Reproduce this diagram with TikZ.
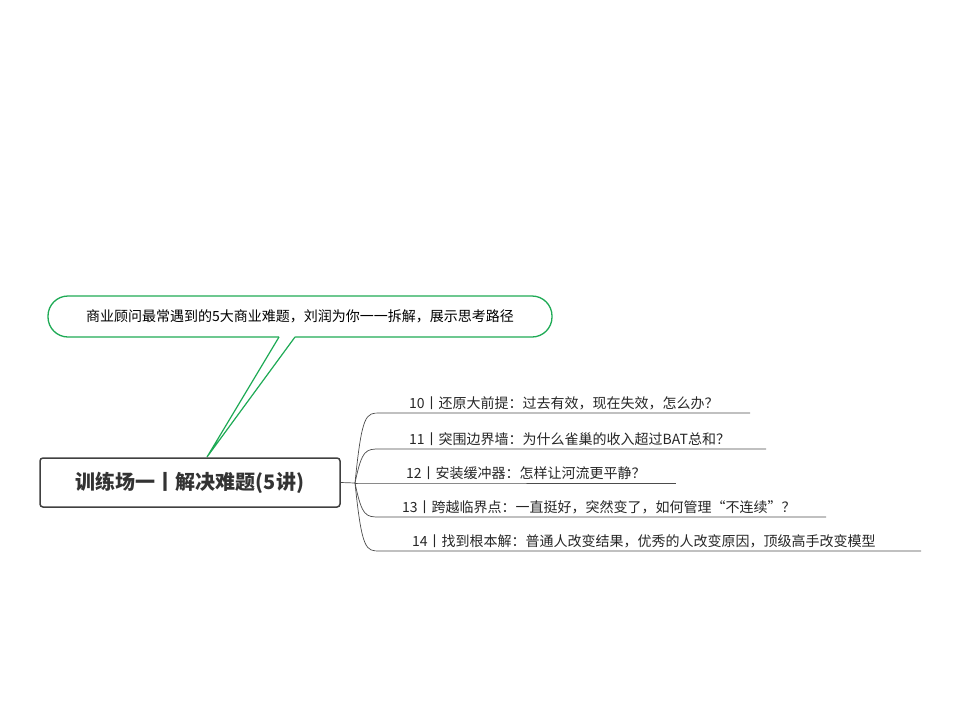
\documentclass[tikz,border=0pt]{standalone}
\usepackage{fontspec}
\setmainfont{Noto Sans CJK SC}
\begin{document}
\begin{tikzpicture}[x=1pt,y=-1pt,
  lbl/.style={anchor=base west,font=\fontsize{14}{16}\selectfont,inner sep=0pt,text=black!85},
  br/.style={draw=black!70,line width=0.7pt}]
\useasboundingbox (0,0) rectangle (960,720);
\definecolor{cg}{RGB}{30,170,85}
% callout
\node[draw=cg,line width=1.3pt,rounded corners=20pt,minimum width=504pt,minimum height=41pt,
  font=\fontsize{14}{16}\selectfont,inner sep=0pt] (call) at (300,316.5) {商业顾问最常遇到的5大商业难题，刘润为你一一拆解，展示思考路径};
\coordinate (tip) at (207,457);
\fill[white] (280,335) -- (296,335) -- (tip) -- cycle;
\draw[cg,line width=1.2pt] (279,337) -- (tip) -- (295,337);
% root
\node[draw=black!75,line width=1.5pt,rounded corners=3pt,minimum width=300pt,minimum height=49pt,
  font=\fontsize{20}{24}\selectfont\bfseries,text=black!80,inner sep=0pt] (root) at (190,482.5) {训练场一丨解决难题(5讲)};
\coordinate (hub) at (355,483);
\draw[br] (root.east) -- (hub);
\foreach \i/\y/\e/\tx/\t in {
 1/413/750/409/{10丨还原大前提：过去有效，现在失效，怎么办？},
 2/449/766/409/{11丨突围边界墙：为什么雀巢的收入超过BAT总和？},
 3/483/676/406/{12丨安装缓冲器：怎样让河流更平静？},
 4/517/826/402/{13丨跨越临界点：一直挺好，突然变了，如何管理“不连续”？},
 5/551/921/412/{14丨找到根本解：普通人改变结果，优秀的人改变原因，顶级高手改变模型}}{
  \coordinate (s\i) at (380,\y);
  \coordinate (e\i) at (\e,\y);
  \draw[br] (hub) .. controls (362,\y) and (366,\y) .. (s\i) -- (e\i);
  \node[lbl] (t\i) at (\tx,\y-5) {\t};
}
\end{tikzpicture}
\end{document}
